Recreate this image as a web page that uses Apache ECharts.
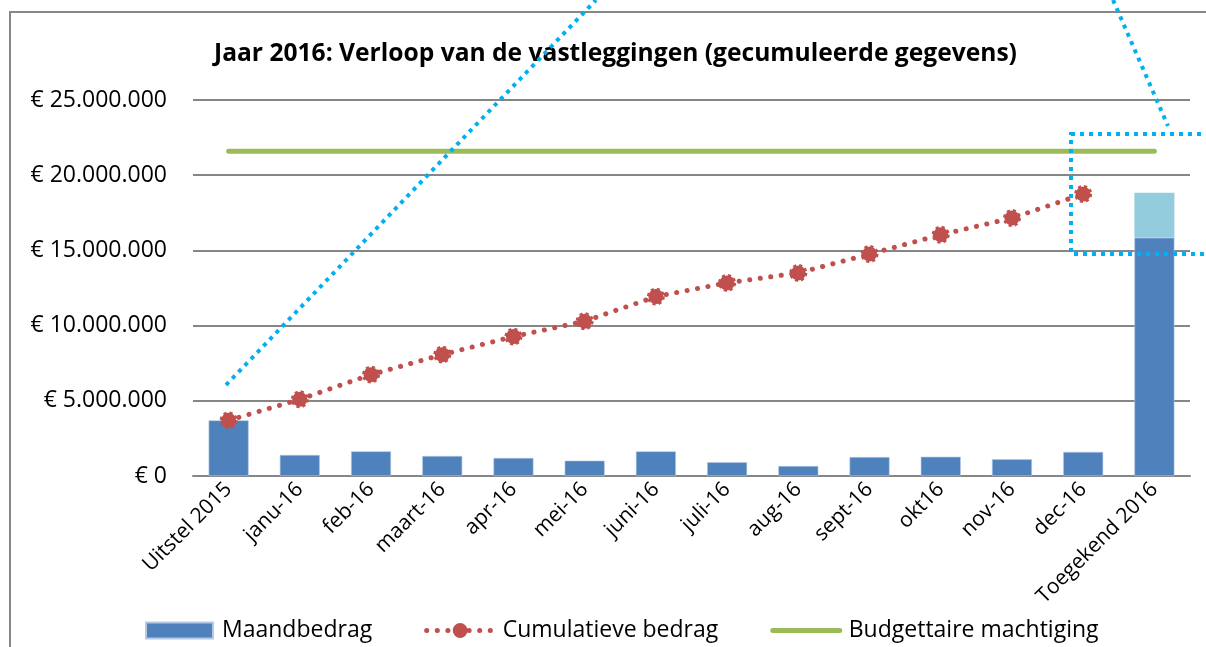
<!DOCTYPE html>
<html>
<head>
<meta charset="utf-8">
<script src="https://cdn.jsdelivr.net/npm/echarts@6/dist/echarts.min.js"></script>
<style>
  html, body { margin: 0; padding: 0; background: #fff; }
  #chart { width: 1206px; height: 647px; }
</style>
</head>
<body>
<div id="chart"></div>
<script>
// categorieen op de x-as
var maanden = [ 'Uitstel 2015', 'janu-16', 'feb-16', 'maart-16', 'apr-16', 'mei-16', 'juni-16',
                'juli-16', 'aug-16', 'sept-16', 'okt16', 'nov-16', 'dec-16', 'Toegekend 2016' ];

// maandbedragen (blauwe staven)
var maandbedrag = [ 3700000, 1400000, 1640000, 1330000, 1200000, 1020000, 1640000,
                    910000, 660000, 1260000, 1280000, 1110000, 1600000, 15840000 ];
// lichtblauw deel bovenop Toegekend 2016
var restToegekend = [ null, null, null, null, null, null, null, null, null, null, null, null, null, 3000000 ];

// cumulatief bedrag (rode stippellijn)
var cumulatief = [ 3700000, 5100000, 6740000, 8070000, 9270000, 10290000, 11930000,
                   12840000, 13500000, 14760000, 16040000, 17150000, 18750000, null ];

// budgettaire machtiging (groene lijn)
var machtiging = [ 21600000, 21600000, 21600000, 21600000, 21600000, 21600000, 21600000,
                   21600000, 21600000, 21600000, 21600000, 21600000, 21600000, 21600000 ];

var yTicks = { min: 0, max: 25000000, interval: 5000000 };

var font = 'Open Sans';

function euro( v ) {
  var s = String( Math.round( v ) ).replace( /\B(?=(\d{3})+(?!\d))/g, '.' );
  return '\u20AC ' + s;
}

var myChart = echarts.init( document.getElementById( 'chart' ) );

var blauw = '#00B0F0';
var stippel = { stroke: blauw, lineWidth: 4, lineDash: [ 4, 5 ], fill: null };

var option = {
  animation: false,
  textStyle: { fontFamily: font },
  title: {
    text: 'Jaar 2016: Verloop van de vastleggingen (gecumuleerde gegevens)',
    left: 209,
    top: 36,
    textStyle: { fontFamily: font, fontSize: 24.6, fontWeight: 'bold', color: '#000' }
  },
  legend: {
    data: [
      { name: 'Maandbedrag', icon: 'rect' },
      { name: 'Cumulatieve bedrag', lineStyle: { width: 5 } },
      { name: 'Budgettaire machtiging', itemStyle: { opacity: 0 }, lineStyle: { width: 5 } }
    ],
    left: 140,
    top: 614,
    itemWidth: 67,
    itemHeight: 16,
    itemGap: 52,
    textStyle: { fontFamily: font, fontSize: 23, color: '#000', padding: [ 0, 0, 0, 4 ] }
  },
  grid: { left: 193, right: 16, top: 100, bottom: 171, containLabel: false },
  xAxis: {
    type: 'category',
    data: maanden,
    axisTick: { show: false },
    axisLine: { lineStyle: { color: '#868686', width: 2 } },
    axisLabel: { rotate: 45, fontSize: 21, color: '#000', margin: 10, interval: 0 }
  },
  yAxis: {
    type: 'value',
    min: yTicks.min,
    max: yTicks.max,
    interval: yTicks.interval,
    axisLine: { show: false },
    axisTick: { show: false },
    splitLine: { lineStyle: { color: '#868686', width: 2 } },
    axisLabel: { fontSize: 23, color: '#000', margin: 26, formatter: euro }
  },
  series: [
    {
      name: 'Maandbedrag',
      type: 'bar',
      stack: 'bedrag',
      barWidth: 40,
      itemStyle: { color: '#4F81BD', borderColor: '#B4C9E4', borderWidth: 0.6 },
      data: maandbedrag
    },
    {
      name: 'Rest',
      type: 'bar',
      stack: 'bedrag',
      barWidth: 40,
      itemStyle: { color: '#93CDDD' },
      data: restToegekend
    },
    {
      name: 'Budgettaire machtiging',
      type: 'line',
      symbol: 'none',
      lineStyle: { color: '#9BBB59', width: 5, cap: 'round' },
      itemStyle: { color: '#9BBB59' },
      data: machtiging
    },
    {
      name: 'Cumulatieve bedrag',
      type: 'line',
      symbol: 'circle',
      symbolSize: 15,
      lineStyle: { color: '#C0504D', width: 5, type: [ 0.1, 10.5 ], cap: 'round' },
      itemStyle: { color: '#C0504D', borderColor: '#C0504D', borderWidth: 3, borderType: 'dotted' },
      data: cumulatief
    }
  ],
  graphic: [
    {
      type: 'rect',
      shape: { x: 10, y: 12, width: 1300, height: 700 },
      style: { stroke: '#878787', lineWidth: 2, fill: null },
      z: 0, silent: true
    },
    { type: 'line', shape: { x1: 226, y1: 385, x2: 596, y2: 0 }, style: stippel, z: 100 },
    { type: 'line', shape: { x1: 1113, y1: 0, x2: 1168, y2: 126 }, style: stippel, z: 100 },
    {
      type: 'rect',
      shape: { x: 1071, y: 134, width: 200, height: 120 },
      style: stippel,
      z: 100
    }
  ]
};

myChart.setOption( option );
</script>
</body>
</html>
